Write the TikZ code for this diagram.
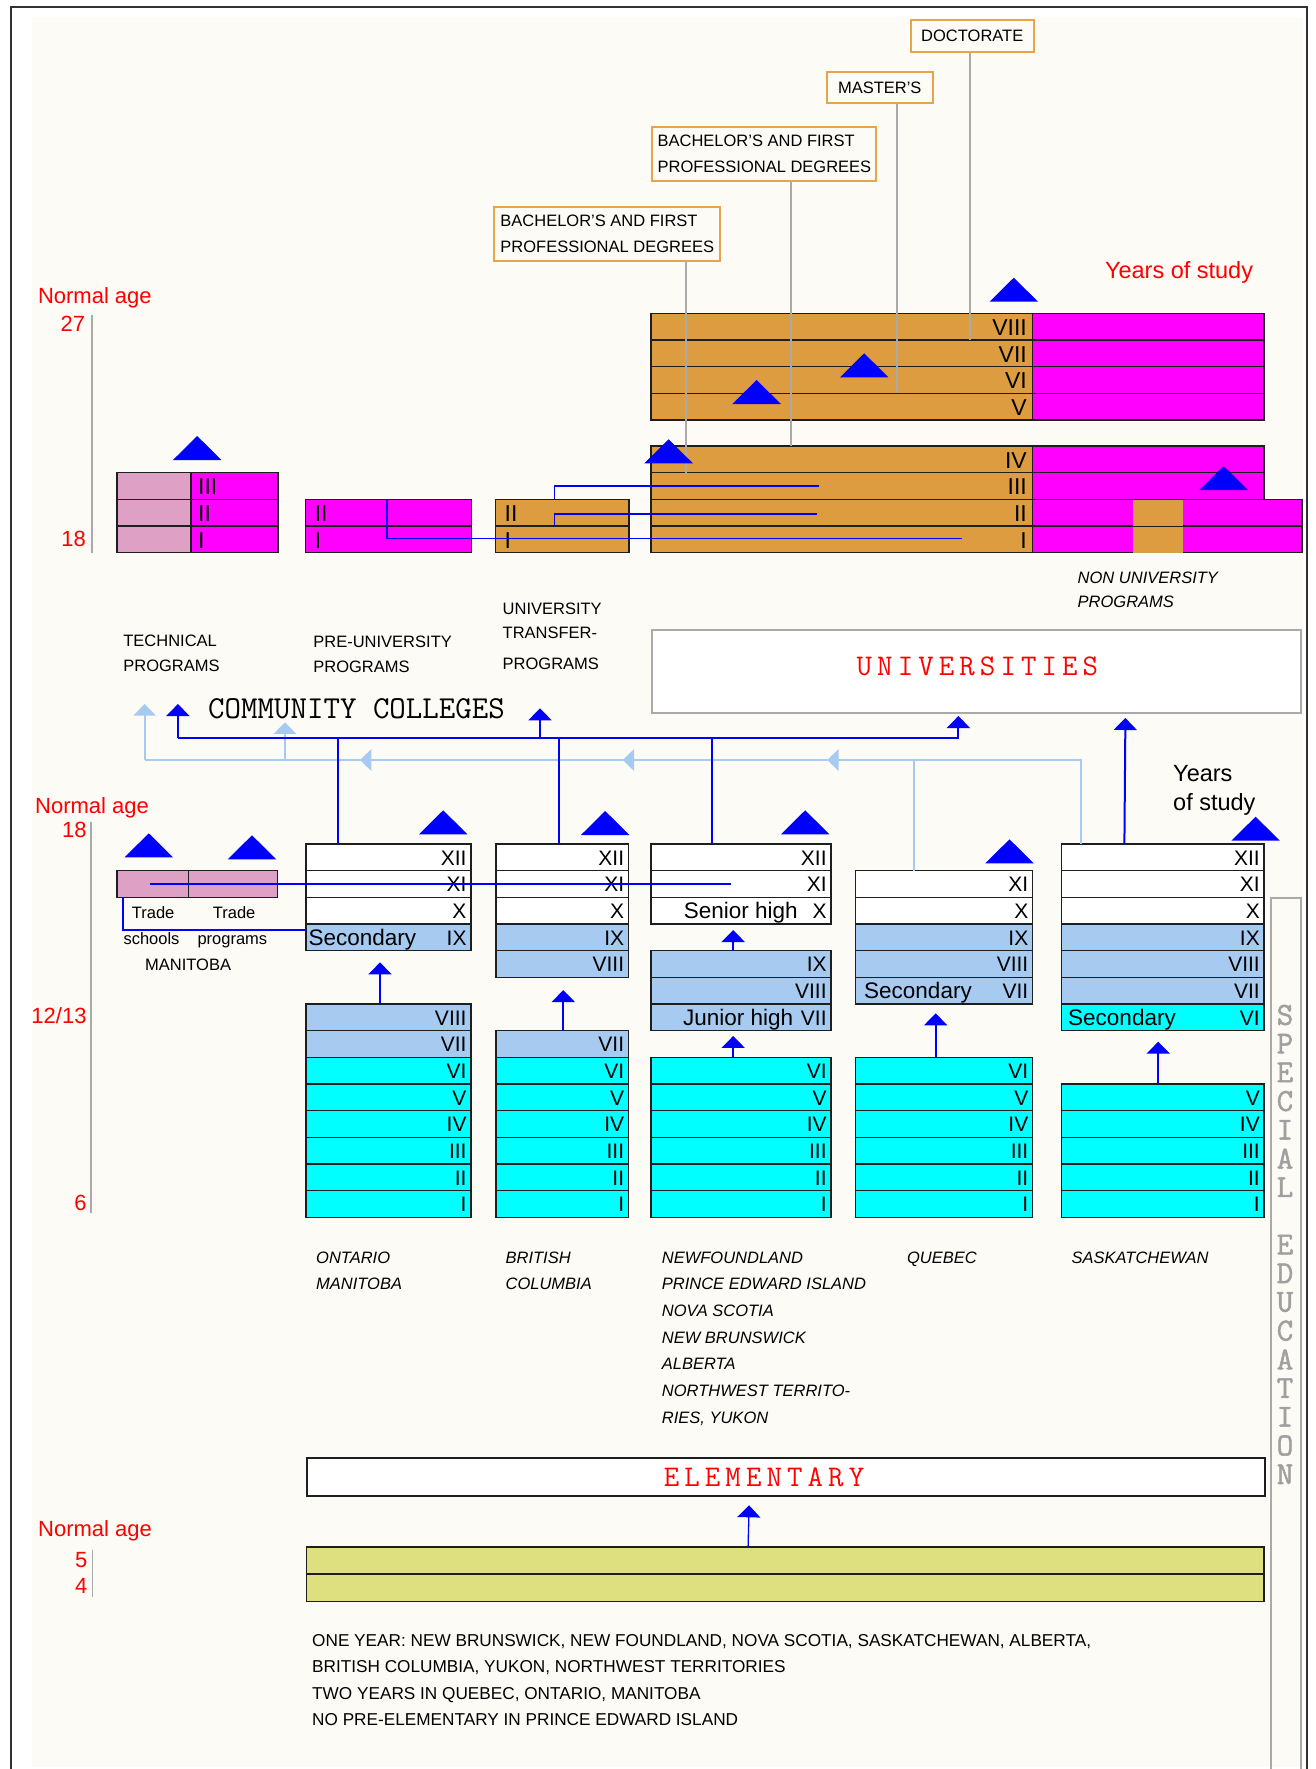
\documentclass[tikz,border=0pt]{standalone}
\usepackage{fontspec}
\setmainfont{Liberation Sans}
\newfontfamily\spfont[FakeBold=1.6]{Latin Modern Mono}
\usetikzlibrary{arrows.meta}
\definecolor{bgc}{RGB}{252,251,246}
\definecolor{orng}{RGB}{222,156,64}
\definecolor{mag}{RGB}{255,0,255}
\definecolor{pinkc}{RGB}{222,160,196}
\definecolor{lblue}{RGB}{166,202,240}
\definecolor{cyanc}{RGB}{0,255,255}
\definecolor{yel}{RGB}{222,224,128}
\definecolor{arrblue}{RGB}{0,0,255}
\definecolor{greyl}{RGB}{170,170,170}
\definecolor{spc}{RGB}{160,160,160}
\definecolor{redc}{RGB}{255,0,0}
\definecolor{degc}{RGB}{232,164,72}
\definecolor{edge}{RGB}{30,30,30}
\definecolor{framec}{RGB}{50,50,50}
\definecolor{insc}{RGB}{205,160,80}
\newcommand\fsCap{\fontsize{16.5}{20}\selectfont}
\newcommand\fsBot{\fontsize{17.2}{20}\selectfont}
\newcommand\fsCapI{\fontsize{16.5}{20}\selectfont\itshape}
\newcommand\fsSmall{\fontsize{16.5}{20}\selectfont}
\newcommand\fsNum{\fontsize{21}{24}\selectfont}
\newcommand\fsWord{\fontsize{22.5}{26}\selectfont}
\newcommand\fsMark{\fontsize{23}{26}\selectfont}
\newcommand\fsRed{\fontsize{22}{26}\selectfont}
\newcommand\fsYrs{\fontsize{23.5}{28}\selectfont}
\newcommand\fsBig{\ttfamily\fontsize{30}{34}\selectfont}
\newcommand\fsCC{\ttfamily\fontsize{32}{36}\selectfont}
\newcommand\fsSp{\spfont\fontsize{32}{34}\selectfont}
\newcommand\fsDeg{\fontsize{16.5}{26}\selectfont}
\newcommand\lsp{\hskip5.1pt}
\newcommand\rowcell[6]{%
  \node[cellbox,fill=#5,minimum width=#4pt] (#1) at (#2,#3) {};
  \node[numtxt] (t#1) at ([xshift=-4pt,yshift=5.5pt]#1.south east) {#6};}
\newcommand\btri[2]{\fill[arrblue] (#1-24.25,#2) -- (#1+24.25,#2) -- (#1,#2-24) -- cycle;}
\newcommand\lhead[2]{\fill[lblue] (#1,#2) -- (#1+11.4,#2-11) -- (#1+11.4,#2+11) -- cycle;}
\begin{document}
\begin{tikzpicture}[x=1pt,y=-1pt,
 cellbox/.style={draw=edge,line width=1.6pt,anchor=north west,minimum height=26.667pt,inner sep=0pt,outer sep=0pt},
 numtxt/.style={font=\fsNum,inner sep=0pt,anchor=base east},
 wordtxt/.style={font=\fsWord,inner sep=0pt},
 mktxt/.style={font=\fsMark,inner sep=0pt},
 captxt/.style={font=\fsCap,inner sep=0pt,anchor=base west},
 bottxt/.style={font=\fsBot,inner sep=0pt,anchor=base west},
 capit/.style={font=\fsCapI,inner sep=0pt,anchor=base west},
 smalltxt/.style={font=\fsSmall,inner sep=0pt,anchor=base west},
 redl/.style={font=\fsRed,text=redc,inner sep=0pt},
 yrs/.style={font=\fsYrs,inner sep=0pt,anchor=base west},
 bigmono/.style={font=\fsBig,text=redc,inner sep=0pt,anchor=base},
 ccmono/.style={font=\fsCC,inner sep=0pt,anchor=base west},
 spl/.style={font=\fsSp,text=spc,inner sep=0pt},
 degl/.style={draw=degc,line width=2pt,anchor=north west,font=\fsDeg,align=left,inner sep=0pt},
 bline/.style={draw=arrblue,line width=2pt},
 barrow/.style={bline,-{Triangle[width=23pt,length=12pt]}},
 lbline/.style={draw=lblue,line width=2pt},
 lbarrow/.style={lbline,-{Triangle[width=22pt,length=11.5pt]}},
 thinb/.style={draw=arrblue,line width=1.5pt},
 gline/.style={draw=greyl,line width=2pt},
 axl/.style={draw=greyl,line width=1.8pt},
 insbox/.style={fill=orng,draw=insc,line width=0.8pt,anchor=north west,minimum width=49pt,minimum height=24.6pt,inner sep=0pt}
]
\useasboundingbox (0,0) rectangle (1315,1769);
\fill[white] (0,0) rectangle (1315,1769);
\fill[bgc] (31.7,18.3) rectangle (1303,1767);
\draw[draw=framec,line width=2pt] (11,1775) -- (11,7.3) -- (1307.3,7.3) -- (1307.3,1775);

% ---------- degree labels ----------
\node[degl,minimum width=123.3pt,minimum height=31.7pt] (doc) at (909.6,19.3) {DOCTORATE};
\node[degl,minimum width=106.1pt,minimum height=31.6pt] (mas) at (825.7,70.7) {MASTER'S};
\node[degl,minimum width=224pt,minimum height=54.3pt] (bac2) at (651.4,126) {BACHELOR'S AND FIRST\\PROFESSIONAL DEGREES};
\node[degl,minimum width=226.1pt,minimum height=54pt] (bac1) at (493.2,206) {BACHELOR'S AND FIRST\\PROFESSIONAL DEGREES};

% ---------- university blocks ----------
\foreach \lab [count=\idx from 1] in {VIII,VII,VI,V}{
  \node[cellbox,fill=orng,minimum width=381.6pt] (uUo\idx) at (650.8,286.667+\idx*26.667) {};
  \node[cellbox,fill=mag,minimum width=231.6pt] (uUm\idx) at (1032.4,286.667+\idx*26.667) {};
  \node[mktxt,anchor=base east] (uUn\idx) at ([xshift=-5.4pt,yshift=4.5pt]uUo\idx.south east) {\lab};
}
\foreach \lab [count=\idx from 1] in {IV,III,II,I}{
  \node[cellbox,fill=orng,minimum width=381.6pt] (uLo\idx) at (650.8,419.333+\idx*26.667) {};
  \node[mktxt,anchor=base east] (uLn\idx) at ([xshift=-5.4pt,yshift=4.5pt]uLo\idx.south east) {\lab};
}
\node[cellbox,fill=mag,minimum width=231.6pt] (uLm1) at (1032.4,446) {};
\node[cellbox,fill=mag,minimum width=231.6pt] (uLm2) at (1032.4,472.667) {};
\node[cellbox,fill=mag,minimum width=269.8pt] (uLm3) at (1032.4,499.333) {};
\node[cellbox,fill=mag,minimum width=269.8pt] (uLm4) at (1032.4,526) {};
\node[insbox] (uIn3) at (1133,500.4) {};
\node[insbox] (uIn4) at (1133,527.05) {};

% ---------- community college blocks ----------
\foreach \lab [count=\idx from 1] in {III,II,I}{
  \node[cellbox,fill=pinkc,minimum width=73.9pt] (tcP\idx) at (116.9,446+\idx*26.667) {};
  \node[cellbox,fill=mag,minimum width=87pt] (tcM\idx) at (190.8,446+\idx*26.667) {};
  \node[mktxt,anchor=base west] (tcN\idx) at ([xshift=7.2pt,yshift=4.5pt]tcM\idx.south west) {\lab};
}
\foreach \lab [count=\idx from 1] in {II,I}{
  \node[cellbox,fill=mag,minimum width=166.1pt] (pu\idx) at (305.5,472.667+\idx*26.667) {};
  \node[mktxt,anchor=base west] (puN\idx) at ([xshift=9.1pt,yshift=4.5pt]pu\idx.south west) {\lab};
  \node[cellbox,fill=orng,minimum width=133.7pt] (ut\idx) at (495.3,472.667+\idx*26.667) {};
  \node[mktxt,anchor=base west] (utN\idx) at ([xshift=9.1pt,yshift=4.5pt]ut\idx.south west) {\lab};
}

% ---------- labels of upper part ----------
\node[redl,anchor=base west] (na1) at (37.8,303.7) {Normal age};
\node[redl,anchor=base east] (a27) at (85.2,331.7) {27};
\node[redl,anchor=base east] (a18a) at (86,546) {18};
\draw[axl] (92,315) -- (92,553.3);
\node[yrs,text=redc] (yos1) at (1104.8,278.5) {Years of study};
\node[captxt] (tTech1) at (123.2,646) {TECHNICAL};
\node[captxt] (tTech2) at (123.2,671) {PROGRAMS};
\node[captxt] (tPre1) at (313.2,647) {PRE-UNIVERSITY};
\node[captxt] (tPre2) at (313.2,672) {PROGRAMS};
\node[captxt] (tUt1) at (502.5,614) {UNIVERSITY};
\node[captxt] (tUt2) at (502.5,638) {TRANSFER-};
\node[captxt] (tUt3) at (502.5,669) {PROGRAMS};
\node[capit] (tNon1) at (1077.5,583.4) {NON UNIVERSITY};
\node[capit] (tNon2) at (1077.5,607.6) {PROGRAMS};
\node[ccmono] (cc) at (208,718) {COMMUNITY COLLEGES};
\node[draw=greyl,line width=2pt,fill=white,anchor=north west,minimum width=649.6pt,minimum height=82.7pt,inner sep=0pt] (uni) at (650.8,629) {};
\node[bigmono] (univT) at (977.4,675) {U\lsp N\lsp I\lsp V\lsp E\lsp R\lsp S\lsp I\lsp T\lsp I\lsp E\lsp S};

% ---------- school columns ----------
\node[redl,anchor=base west] (na2) at (35,813.7) {Normal age};
\node[redl,anchor=base east] (a18b) at (86.7,837.3) {18};
\node[redl,anchor=base east] (a1213) at (86.7,1023.3) {12/13};
\node[redl,anchor=base east] (a6) at (86.7,1210) {6};
\draw[axl] (91,821.7) -- (91,1213.3);
\node[yrs] (yos2) at (1173,781.8) {Years};
\node[yrs] (yos3) at (1173,810) {of study};

% Manitoba trade
\node[cellbox,fill=pinkc,minimum width=71.6pt] (mts) at (116.7,870.667) {};
\node[cellbox,fill=pinkc,minimum width=89pt] (mtp) at (188.3,870.667) {};
\node[smalltxt] (trd1) at (131.7,918) {Trade};
\node[smalltxt] (trd2) at (212.7,918) {Trade};
\node[smalltxt] (sch) at (123.3,944) {schools};
\node[smalltxt] (prg) at (197.3,944) {programs};
\node[captxt] (manT) at (145,970) {MANITOBA};

% Ontario
\foreach \lab/\col [count=\idx from 0] in {XII/white,XI/white,X/white,IX/lblue}{\rowcell{onU\idx}{306}{844+\idx*26.667}{164.7}{\col}{\lab}}
\foreach \lab/\col [count=\idx from 0] in {VIII/lblue,VII/lblue,VI/cyanc,V/cyanc,IV/cyanc,III/cyanc,II/cyanc,I/cyanc}{\rowcell{onL\idx}{306}{1004+\idx*26.667}{164.7}{\col}{\lab}}
\node[wordtxt,anchor=base west] (onSec) at ([xshift=2.3pt,yshift=5.5pt]onU3.south west) {Secondary};
% British Columbia
\foreach \lab/\col [count=\idx from 0] in {XII/white,XI/white,X/white,IX/lblue,VIII/lblue}{\rowcell{bcU\idx}{496}{844+\idx*26.667}{132.3}{\col}{\lab}}
\foreach \lab/\col [count=\idx from 0] in {VII/lblue,VI/cyanc,V/cyanc,IV/cyanc,III/cyanc,II/cyanc,I/cyanc}{\rowcell{bcL\idx}{496}{1030.667+\idx*26.667}{132.3}{\col}{\lab}}
% Newfoundland etc.
\foreach \lab [count=\idx from 0] in {XII,XI,X}{\rowcell{nfU\idx}{651}{844+\idx*26.667}{179.8}{white}{\lab}}
\foreach \lab [count=\idx from 0] in {IX,VIII,VII}{\rowcell{nfM\idx}{651}{950.667+\idx*26.667}{179.8}{lblue}{\lab}}
\foreach \lab [count=\idx from 0] in {VI,V,IV,III,II,I}{\rowcell{nfL\idx}{651}{1057.333+\idx*26.667}{179.8}{cyanc}{\lab}}
\node[wordtxt,anchor=base east] (nfSen) at ([xshift=-33pt,yshift=5.5pt]nfU2.south east) {Senior high};
\node[wordtxt,anchor=base east] (nfJun) at ([xshift=-37.5pt,yshift=5.5pt]nfM2.south east) {Junior high};
% Quebec
\foreach \lab/\col [count=\idx from 0] in {XI/white,X/white,IX/lblue,VIII/lblue,VII/lblue}{\rowcell{qcU\idx}{855.5}{870.667+\idx*26.667}{177}{\col}{\lab}}
\foreach \lab [count=\idx from 0] in {VI,V,IV,III,II,I}{\rowcell{qcL\idx}{855.5}{1057.333+\idx*26.667}{177}{cyanc}{\lab}}
\node[wordtxt,anchor=base west] (qcSec) at ([xshift=8.5pt,yshift=5.5pt]qcU4.south west) {Secondary};
% Saskatchewan
\foreach \lab/\col [count=\idx from 0] in {XII/white,XI/white,X/white,IX/lblue,VIII/lblue,VII/lblue,VI/cyanc}{\rowcell{skU\idx}{1061.5}{844+\idx*26.667}{202.5}{\col}{\lab}}
\foreach \lab [count=\idx from 0] in {V,IV,III,II,I}{\rowcell{skL\idx}{1061.5}{1084+\idx*26.667}{202.5}{cyanc}{\lab}}
\node[wordtxt,anchor=base west] (skSec) at ([xshift=6.5pt,yshift=5.5pt]skU6.south west) {Secondary};

% province names
\node[capit] (pOn1) at (316,1263) {ONTARIO};
\node[capit] (pOn2) at (316,1289.5) {MANITOBA};
\node[capit] (pBc1) at (505.4,1263) {BRITISH};
\node[capit] (pBc2) at (505.4,1289.5) {COLUMBIA};
\foreach \lab [count=\idx from 0] in {NEWFOUNDLAND,PRINCE EDWARD ISLAND,NOVA SCOTIA,NEW BRUNSWICK,ALBERTA,NORTHWEST TERRITO-,{RIES, YUKON}}{\node[capit] (pNf\idx) at (661.7,1263+\idx*26.67) {\lab};}
\node[capit] (pQc) at (906.9,1263) {QUEBEC};
\node[capit] (pSk) at (1071.4,1263) {SASKATCHEWAN};

% special education
\node[draw=greyl,line width=2pt,anchor=north west,minimum width=30pt,minimum height=900pt,inner sep=0pt] (spbox) at (1270,897) {};
\foreach \ch [count=\idx from 0] in {S,P,E,C,I,A,L}{\node[spl] (se\idx) at (1285,1015+\idx*28.7) {\ch};}
\foreach \ch [count=\idx from 8] in {E,D,U,C,A,T,I,O,N}{\node[spl] (se\idx) at (1285,1015+\idx*28.7) {\ch};}

% elementary and pre-elementary
\node[draw=edge,line width=2pt,fill=white,anchor=north west,minimum width=957.6pt,minimum height=37.8pt,inner sep=0pt] (elem) at (306.3,1456.9) {};
\node[bigmono] (elemT) at (764,1486) {E\lsp L\lsp E\lsp M\lsp E\lsp N\lsp T\lsp A\lsp R\lsp Y};
\node[cellbox,fill=yel,minimum width=957.6pt,minimum height=26.8pt] (pre1) at (306.3,1547) {};
\node[cellbox,fill=yel,minimum width=957.6pt,minimum height=27.5pt] (pre2) at (306.3,1573.8) {};
\node[redl,anchor=base west] (na3) at (38,1536) {Normal age};
\node[redl,anchor=base east] (a5) at (87.5,1567) {5};
\node[redl,anchor=base east] (a4) at (87.5,1593.7) {4};
\draw[axl,line width=1.3pt] (92.4,1550.4) -- (92.4,1597);
\node[bottxt] (bt1) at (312,1646) {ONE YEAR: NEW BRUNSWICK, NEW FOUNDLAND, NOVA SCOTIA, SASKATCHEWAN, ALBERTA,};
\node[bottxt] (bt2) at (312,1672.5) {BRITISH COLUMBIA, YUKON, NORTHWEST TERRITORIES};
\node[bottxt] (bt3) at (312,1699) {TWO YEARS IN QUEBEC, ONTARIO, MANITOBA};
\node[bottxt] (bt4) at (312,1725.5) {NO PRE-ELEMENTARY IN PRINCE EDWARD ISLAND};

% ---------- connectors ----------
% light blue network
\coordinate (lbA) at (144.6,760);
\coordinate (ccL1) at (144.6,704);
\coordinate (lbB) at (285,760);
\coordinate (ccL2) at (285,722.3);
\draw[lbline] ([xshift=-30pt]qcU0.north) |- (lbA);
\draw[lbline] ([xshift=-81.75pt]skU0.north) |- (lbA);
\draw[lbarrow] (lbA) -- (ccL1);
\draw[lbarrow] (lbB) -- (ccL2);
\lhead{360}{760}
\lhead{622.7}{760}
\lhead{827.3}{760}
% dark blue network
\coordinate (dbA) at (177.9,737.7);
\coordinate (ccD1) at (177.9,704);
\coordinate (dbB) at (540,737.7);
\coordinate (ccD2) at (540,708.3);
\draw[bline] ([xshift=-50.05pt]onU0.north) |- (dbA);
\draw[bline] ([xshift=-3.65pt]bcU0.north) |- (dbA);
\draw[bline] ([xshift=-28.5pt]nfU0.north) |- (dbA);
\draw[barrow] (dbA) -| ([xshift=-18.2pt,yshift=-2.3pt]uni.south);
\draw[barrow] (dbA) -- (ccD1);
\draw[barrow] (dbB) -- (ccD2);
\draw[barrow] ([xshift=-38.35pt]skU0.north) -- ([xshift=148.8pt,yshift=-4.3pt]uni.south);
% arrows between school stages
\draw[barrow] ([xshift=-8.35pt]onL0.north) -- ([xshift=-8.35pt,yshift=-11.7pt]onU3.south);
\draw[barrow] ([xshift=1.15pt]bcL0.north) -- ([xshift=1.15pt,yshift=-12.7pt]bcU4.south);
\draw[barrow] ([xshift=-7.7pt]nfM0.north) -- ([xshift=-7.7pt,yshift=-6pt]nfU2.south);
\draw[barrow] ([xshift=-7.7pt]nfL0.north) -- ([xshift=-7.7pt,yshift=-5.3pt]nfM2.south);
\draw[barrow] ([xshift=-8.3pt]qcL0.north) -- ([xshift=-8.3pt,yshift=-9.3pt]qcU4.south);
\draw[barrow] ([xshift=-4.55pt]skL0.north) -- ([xshift=-4.55pt,yshift=-11pt]skU6.south);
\draw[barrow,line width=1.3pt] ([xshift=-37pt]pre1.north) -- ([xshift=-37pt,yshift=-8.6pt]elem.south);
% Manitoba lines
\draw[bline] ([xshift=-2.5pt]mts.center) -- ([xshift=-10.3pt]nfU1.center);
\draw[bline] ([xshift=-29.2pt]mts.south) |- ([yshift=7.3pt]onU3.west);
% transfer lines
\draw[thinb] ([xshift=-7.55pt]ut1.north) |- ([xshift=-23pt]uLo2.center);
\draw[thinb] ([xshift=-7.55pt]ut2.north) |- ([xshift=-25.1pt,yshift=-1.3pt]uLo3.center);
\draw[thinb] ([xshift=-1.55pt]pu1.north) |- ([xshift=120.1pt,yshift=1pt]uLo4.center);
% degree lines
\path ([xshift=-1.85pt]doc.south) coordinate (g1);
\path ([xshift=16.85pt]mas.south) coordinate (g2);
\path ([xshift=27pt]bac2.south) coordinate (g3);
\path ([xshift=79.05pt]bac1.south) coordinate (g4);
\draw[gline] (g1) -- (g1 |- uUo1.south);
\draw[gline] (g2) -- (g2 |- uUo3.south);
\draw[gline] (g3) -- (g3 |- uLo1.north);
\draw[gline] (g4) -- (g4 |- uLo1.south);

% ---------- blue triangles ----------
\btri{443.2}{834.3}
\btri{605.2}{835}
\btri{805.2}{834.3}
\btri{1009.5}{863.3}
\btri{1255.6}{840.7}
\btri{148.8}{857.3}
\btri{252}{859.3}
\btri{197.2}{460}
\btri{1013.8}{301.7}
\btri{864.2}{377.3}
\btri{756.6}{404}
\btri{668.6}{463.3}
\btri{1223.7}{490}
\end{tikzpicture}
\end{document}
